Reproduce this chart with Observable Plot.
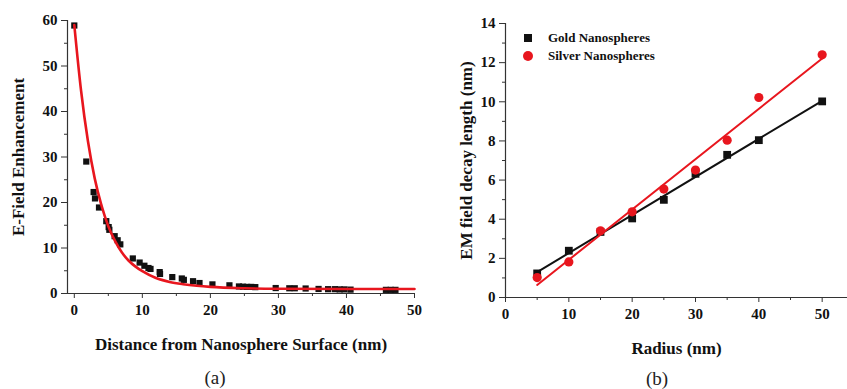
<!DOCTYPE html>
<html>
<head>
<meta charset="utf-8">
<script src="https://cdn.jsdelivr.net/npm/d3@7"></script>
<script src="https://cdn.jsdelivr.net/npm/@observablehq/plot@0.6"></script>
<style>
  html, body { margin: 0; padding: 0; background: #fff; }
  #chart { position: relative; width: 847px; height: 389px; overflow: hidden; font-family: "Liberation Serif", "DejaVu Serif", serif; }
  #chart svg { position: absolute; top: 0; }
  #chart svg text { font-family: "Liberation Serif", "DejaVu Serif", serif; font-weight: bold; fill: #111; }
  g[aria-label="x-axis tick label"], g[aria-label="y-axis tick label"] { font-size: 15px; }
  g[aria-label="x-axis label"], g[aria-label="y-axis label"] { font-size: 17px; }
  .legend { position: absolute; left: 522px; font-weight: bold; font-size: 13px; color: #111; }
  .legend .row { position: absolute; white-space: nowrap; height: 14px; line-height: 14px; }
  .legend .sym { position: absolute; }
  .legend .lbl { position: absolute; left: 26px; top: 0; }
  .cap { position: absolute; font-size: 19px; color: #222; transform: translate(-50%, -50%); }
</style>
</head>
<body>
<div id="chart"></div>
<script>
// ---- Panel (a): E-field enhancement vs distance ----
const distance = [0, 1.76, 2.84, 3.04, 3.63, 4.7, 5.05, 5.15, 5.93, 6.37, 6.76, 8.6, 9.6, 10.3, 10.9, 11.2, 12.55, 12.6, 14.4, 15.8, 16.1, 17.45, 18.4, 20.3, 22.8, 24.2, 24.8, 25.4, 26.0, 26.6, 29.6, 31.6, 32.4, 34.0, 35.9, 37.3, 38.3, 39.0, 39.7, 40.6, 45.8, 46.5, 47.2];
const enhancement = [58.9, 29.0, 22.3, 20.9, 18.9, 15.9, 14.6, 14.0, 12.6, 11.7, 10.8, 7.7, 6.8, 6.1, 5.6, 5.4, 4.7, 4.3, 3.6, 3.3, 3.0, 2.7, 2.3, 2.0, 1.8, 1.55, 1.5, 1.45, 1.45, 1.4, 1.2, 1.15, 1.15, 1.1, 1.0, 0.95, 0.95, 0.9, 0.9, 0.85, 0.8, 0.8, 0.8];
// fitted decay curve
const fitDistance = [0, 1, 2, 3, 4, 5, 6, 7, 8, 9, 10, 12, 14, 16, 18, 20, 25, 30, 40, 50];
const fitEnhancement = [59, 44.5, 33.5, 25.3, 19.3, 14.8, 11.5, 9.0, 7.2, 5.9, 4.9, 3.4, 2.55, 2.05, 1.7, 1.45, 1.15, 1.05, 1.0, 1.0];
const xTicksA = [0, 10, 20, 30, 40, 50];
const xMinorA = [5, 15, 25, 35, 45];
const yTicksA = [0, 10, 20, 30, 40, 50, 60];
const yMinorA = [5, 15, 25, 35, 45, 55];

// ---- Panel (b): EM field decay length vs radius ----
const radius = [5, 10, 15, 20, 25, 30, 35, 40, 50];
const gold = [1.23, 2.39, 3.35, 4.04, 4.99, 6.32, 7.29, 8.04, 10.02];
const silver = [1.02, 1.82, 3.41, 4.38, 5.54, 6.51, 8.04, 10.22, 12.4];
const seriesNames = ["Gold Nanospheres", "Silver Nanospheres"];
const xTicksB = [0, 10, 20, 30, 40, 50];
const xMinorB = [5, 15, 25, 35, 45];
const yTicksB = [0, 2, 4, 6, 8, 10, 12, 14];
const yMinorB = [1, 3, 5, 7, 9, 11, 13];

const RED = "#e8161e";
const INK = "#111";
const AXIS = "#333";

const pointsA = distance.map((d, i) => ({d, e: enhancement[i]}));
const fitA = fitDistance.map((d, i) => ({d, e: fitEnhancement[i]}));
const goldT = radius.map((r, i) => ({r, v: gold[i]}));
const silverT = radius.map((r, i) => ({r, v: silver[i]}));

const baseStyle = {fontFamily: "Liberation Serif, DejaVu Serif, serif", fontSize: "15px", fontWeight: "bold", color: INK, background: "transparent", overflow: "visible"};

const plotA = Plot.plot({
  width: 430, height: 389,
  marginLeft: 67, marginRight: 16, marginTop: 20, marginBottom: 96,
  style: baseStyle,
  x: {domain: [-1, 50]},
  y: {domain: [0, 60]},
  marks: [
    Plot.axisX({ticks: xTicksA, tickSize: 5, tickPadding: 6, stroke: AXIS, label: "Distance from Nanosphere Surface (nm)", labelAnchor: "center", labelOffset: 56, labelArrow: "none"}),
    Plot.axisX({ticks: xMinorA, tickSize: 3, stroke: AXIS, text: null, label: null}),
    Plot.axisY({ticks: yTicksA, tickSize: 6, tickPadding: 4, stroke: AXIS, label: "E-Field Enhancement", labelAnchor: "center", labelOffset: 56, labelArrow: "none"}),
    Plot.axisY({ticks: yMinorA, tickSize: 3, stroke: AXIS, text: null, label: null}),
    Plot.ruleY([0], {stroke: AXIS, strokeWidth: 1.2}),
    Plot.ruleX([-1], {stroke: AXIS, strokeWidth: 1.2}),
    Plot.dot(pointsA, {x: "d", y: "e", symbol: "square", r: 3.5, fill: INK, stroke: "none"}),
    Plot.line(fitA, {x: "d", y: "e", stroke: RED, strokeWidth: 2.6, curve: "monotone-x"})
  ]
});
plotA.style.left = "0px";

const plotB = Plot.plot({
  width: 407, height: 389,
  marginLeft: 65, marginRight: 0, marginTop: 23, marginBottom: 92,
  style: baseStyle,
  x: {domain: [0, 54]},
  y: {domain: [0, 14]},
  marks: [
    Plot.axisX({ticks: xTicksB, tickSize: 5, tickPadding: 6, stroke: AXIS, label: "Radius (nm)", labelAnchor: "center", labelOffset: 56, labelArrow: "none"}),
    Plot.axisX({ticks: xMinorB, tickSize: 3, stroke: AXIS, text: null, label: null}),
    Plot.axisY({ticks: yTicksB, tickSize: 6, tickPadding: 4, stroke: AXIS, label: "EM field decay length (nm)", labelAnchor: "center", labelOffset: 46, labelArrow: "none"}),
    Plot.axisY({ticks: yMinorB, tickSize: 3, stroke: AXIS, text: null, label: null}),
    Plot.ruleY([0], {stroke: AXIS, strokeWidth: 1.2}),
    Plot.ruleX([0], {stroke: AXIS, strokeWidth: 1.2}),
    Plot.dot(goldT, {x: "r", y: "v", symbol: "square", r: 4.4, fill: INK, stroke: "none"}),
    Plot.linearRegressionY(goldT, {x: "r", y: "v", stroke: INK, strokeWidth: 2, ci: 0}),
    Plot.dot(silverT, {x: "r", y: "v", symbol: "circle", r: 4.6, fill: RED, stroke: "none"}),
    Plot.linearRegressionY(silverT, {x: "r", y: "v", stroke: RED, strokeWidth: 2, ci: 0})
  ]
});
plotB.style.left = "440px";

const chart = document.getElementById("chart");
chart.appendChild(plotA);
chart.appendChild(plotB);

// legend
const legend = document.createElement("div");
legend.className = "legend";
legend.innerHTML =
  `<div class="row" style="top:31px"><span class="sym" style="left:2px;top:3px;width:8px;height:8px;background:${INK}"></span><span class="lbl">${seriesNames[0]}</span></div>` +
  `<div class="row" style="top:49px"><span class="sym" style="left:1px;top:2px;width:10px;height:10px;border-radius:50%;background:${RED}"></span><span class="lbl">${seriesNames[1]}</span></div>`;
chart.appendChild(legend);

// panel captions
[["(a)", 215, 378], ["(b)", 657, 379]].forEach(([t, x, y]) => {
  const c = document.createElement("div");
  c.className = "cap";
  c.textContent = t;
  c.style.left = x + "px";
  c.style.top = y + "px";
  chart.appendChild(c);
});
</script>
</body>
</html>
